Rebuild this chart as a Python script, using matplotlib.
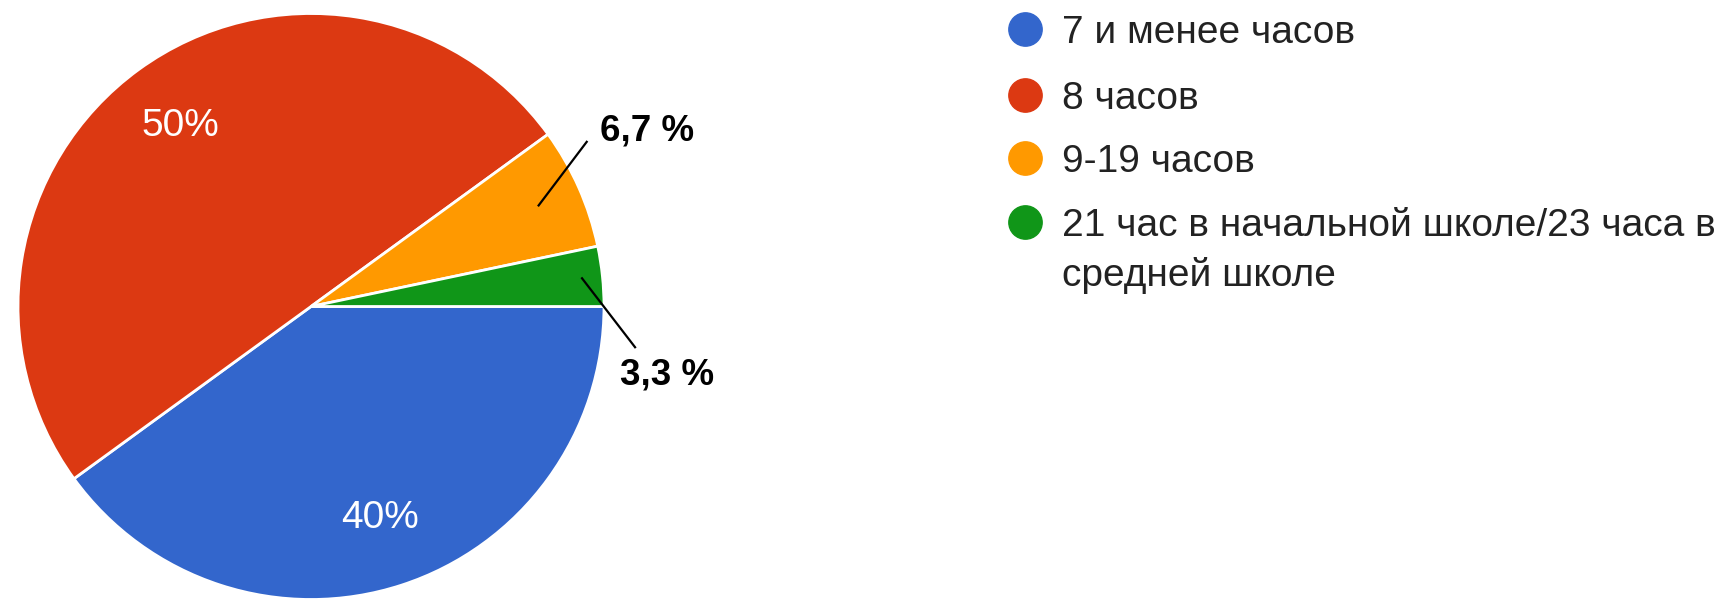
import matplotlib
matplotlib.use("Agg")
import matplotlib.pyplot as plt
import numpy as np

plt.rcParams['font.family'] = ['Liberation Sans', 'DejaVu Sans']

labels = ["7 и менее часов", "8 часов", "9-19 часов",
          "21 час в начальной школе/23 часа в\nсредней школе"]
values = [40, 50, 6.7, 3.3]
colors = ['#3366cc', '#dc3912', '#ff9900', '#109618']

W, H = 1729, 601
fig = plt.figure(figsize=(W / 100, H / 100), dpi=100)
ax = fig.add_axes([0, 0, 1, 1])

def big_pct(p):
    return f"{p:.0f}%" if p >= 10 else ""

wedges, _, autotexts = ax.pie(values, colors=colors, startangle=0, counterclock=False,
                              radius=1, autopct=big_pct, pctdistance=0.76,
                              wedgeprops=dict(edgecolor='white', linewidth=2),
                              textprops=dict(color='white', fontsize=28))

# pie of radius 1 centred at the origin, 293 px per data unit
cx, cy, scale = 311, 306.5, 293
ax.set_xlim(-cx / scale, (W - cx) / scale)
ax.set_ylim((cy - H) / scale, cy / scale)
ax.set_aspect('auto')
ax.axis('off')

# outside labels for the two small slices
small = {2: ((1.148, 0.600), 0.85, (0.941, 0.562)),
         3: ((1.214, -0.234), 0.93, (1.106, -0.139))}
for i, (txt_xy, r_tip, tail) in small.items():
    w = wedges[i]
    mid = np.deg2rad((w.theta1 + w.theta2) / 2)
    tip = (r_tip * np.cos(mid), r_tip * np.sin(mid))
    ax.plot([tip[0], tail[0]], [tip[1], tail[1]], color='black', lw=1.6)
    ax.text(txt_xy[0], txt_xy[1], f"{values[i]:.1f} %".replace('.', ','),
            ha='center', va='center', fontsize=26.5, fontweight='bold', color='black')

# legend drawn by hand so the marker sits on the first line
ys = [28.7, 94.8, 157.7, 221.6]
for lab, col, y in zip(labels, colors, ys):
    fig.lines.append(plt.Line2D([1025 / W], [1 - y / H], marker='o', ms=24, color=col,
                                transform=fig.transFigure, linestyle='none'))
    for k, line in enumerate(lab.split('\n')):
        fig.text(1062 / W, 1 - (y + 14 + 50 * k) / H, line, fontsize=28,
                 color='#222222', va='baseline', ha='left')

fig.savefig('out.png', dpi=100, facecolor='white')
